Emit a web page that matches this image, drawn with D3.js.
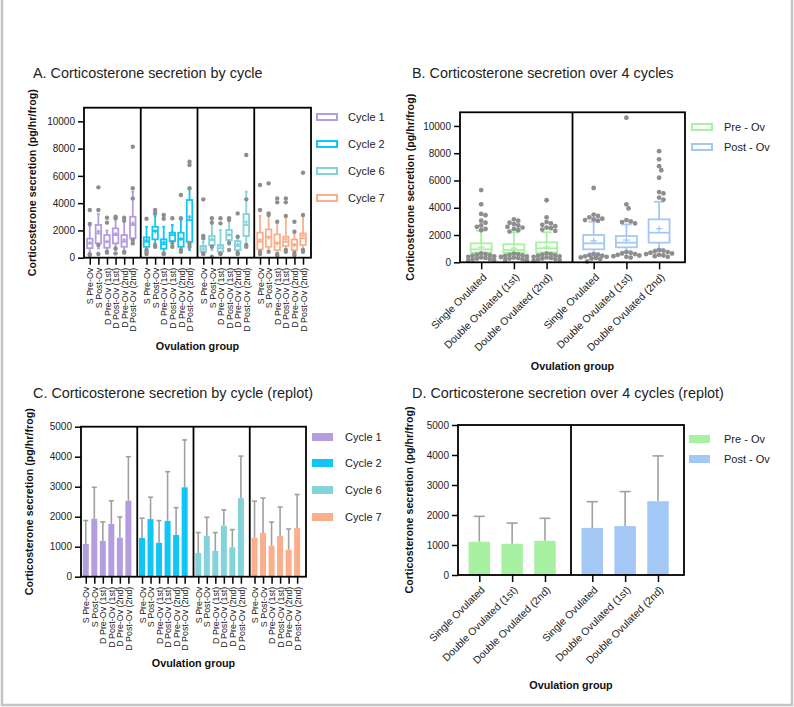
<!DOCTYPE html>
<html>
<head>
<meta charset="utf-8">
<script src="https://cdn.jsdelivr.net/npm/d3@7"></script>
<style>
  body { margin: 0; background: #fff; }
  text { font-family: "Liberation Sans", Arial, sans-serif; }
</style>
</head>
<body>
<svg id="chart" width="794" height="707"></svg>
<script>
// ---- data ----
const cycles = ["Cycle 1", "Cycle 2", "Cycle 6", "Cycle 7"];
const cycleGroups = ["S Pre-Ov", "S Post-Ov", "D Pre-Ov (1st)", "D Post-Ov (1st)", "D Pre-Ov (2nd)", "D Post-Ov (2nd)"];
const ovGroups = ["Single Ovulated", "Double Ovulated (1st)", "Double Ovulated (2nd)"];
const phases = ["Pre - Ov", "Post - Ov"];
const ticksBox = [0, 2000, 4000, 6000, 8000, 10000];
const ticksBar = [0, 1000, 2000, 3000, 4000, 5000];

// box: [whisker low, q1, median, q3, whisker high]
const boxCycle1 = [[350, 700, 1050, 1400, 2300], [680, 1050, 1780, 2400, 3200], [440, 730, 1170, 1660, 2000],
                   [560, 1050, 1660, 2150, 2960], [440, 800, 1170, 1660, 2760], [1050, 1420, 2400, 3000, 4840]];
const boxCycle2 = [[560, 800, 1170, 1490, 2270], [930, 1350, 1980, 2270, 3060], [370, 660, 980, 1350, 2270],
                   [860, 1220, 1660, 1830, 2400], [560, 800, 1340, 1830, 2760], [560, 1170, 2760, 4230, 5090]];
const boxCycle6 = [[270, 440, 610, 860, 1170], [560, 930, 1300, 1590, 2890], [270, 440, 680, 930, 2030],
                   [930, 1300, 1660, 2030, 2890], [270, 560, 860, 1220, 1540], [930, 1590, 2400, 3200, 4840]];
const boxCycle7 = [[270, 610, 1170, 1830, 3060], [440, 800, 1540, 2080, 3250], [200, 560, 1100, 1710, 2640],
                   [560, 860, 1170, 1540, 3060], [270, 560, 980, 1340, 1900], [560, 930, 1420, 1780, 3060]];

const outCycle1 = [[3500, 2480, 250, 200], [5160, 3500, 930, 270], [2930, 2570, 440, 370],
                   [3000, 2890, 680, 320], [2930, 2710, 440, 370], [8140, 5090, 4350, 1300, 1050]];
const outCycle2 = [[2860, 560, 440, 270], [3500, 3250, 930, 800], [3130, 2860, 320, 270],
                   [2890, 1100, 800], [4600, 2890, 560, 440], [7040, 6800, 5090, 1050, 800]];
const outCycle6 = [[4280, 1590, 1420, 320, 270], [2890, 2570, 800, 70], [2890, 2520, 320, 270],
                   [2890, 2760, 1100, 560], [3250, 1540, 370, 270], [7530, 4280, 930, 800]];
const outCycle7 = [[5330, 3500, 440, 270], [5450, 3250, 3130, 440], [4350, 4060, 2640, 270, 150],
                   [4350, 4060, 3060, 560, 440], [2640, 1900, 370, 200], [6230, 3130, 560, 440]];

// means and SD (panel C bars)
const meanCycle1 = [1090, 1930, 1190, 1760, 1300, 2530];
const meanCycle2 = [1290, 1920, 1130, 1860, 1390, 2980];
const meanCycle6 = [790, 1360, 860, 1700, 980, 2620];
const meanCycle7 = [1300, 1460, 1030, 1360, 900, 1620];
const sdCycle1 = [780, 1050, 640, 770, 690, 1470];
const sdCycle2 = [660, 730, 740, 1640, 910, 1580];
const sdCycle6 = [680, 620, 610, 530, 590, 1400];
const sdCycle7 = [1220, 1160, 790, 960, 690, 1120];

// panel B / D: pooled over 4 cycles
const boxPre = [[680, 720, 950, 1390, 2320], [680, 700, 900, 1320, 2200], [680, 720, 1020, 1460, 2200]];
const boxPost = [[640, 950, 1390, 2000, 2980], [780, 1100, 1440, 1930, 2780], [950, 1440, 2170, 3150, 4440]];
const outPre = [
  [5300, 4250, 3550, 3450, 3050, 2900, 2700, 2600, 2450, 2350, 650, 600, 560, 520, 480, 440, 400, 360, 320, 280, 240, 200, 160, 120],
  [3150, 3050, 2900, 2800, 2700, 2600, 2550, 2450, 2350, 2250, 640, 590, 550, 510, 470, 430, 390, 350, 310, 270, 230, 190, 150],
  [4550, 3300, 2950, 2850, 2750, 2650, 2550, 2500, 2400, 2300, 650, 600, 560, 520, 480, 440, 400, 360, 320, 280, 240, 200, 160, 110]
];
const outPost = [
  [5450, 3500, 3400, 3300, 3200, 3150, 3100, 3050, 600, 560, 520, 480, 440, 400, 360, 320, 280, 240, 60],
  [10600, 4250, 3950, 3100, 3000, 2950, 2850, 750, 700, 650, 600, 550, 500, 450, 400, 350],
  [8150, 7550, 7050, 6750, 6200, 5150, 5050, 4750, 4600, 900, 850, 800, 750, 700, 650, 600, 550, 500, 450, 400]
];
const meanPre = [1110, 1040, 1140];
const meanPost = [1570, 1630, 2460];
const sdPre = [845, 690, 750];
const sdPost = [875, 1150, 1510];

// ---- styles ----
const cycleColors = ["#b39ddf", "#0fc6f4", "#84d2da", "#fbae8c"];
const phaseColors = ["#a8f0a2", "#a3c8f5"];
const dotColor = "#8e8e8e";
const errColor = "#a0a0a0";

const svg = d3.select("#chart");
svg.append("rect").attr("width", 794).attr("height", 707).attr("fill", "#fff");
svg.append("rect").attr("x", 2).attr("y", -10).attr("width", 790).attr("height", 715)
  .attr("fill", "none").attr("stroke", "#c4c4c4").attr("stroke-width", 2.5);

function title(x, y, txt) {
  svg.append("text").attr("x", x).attr("y", y).attr("font-size", 14.4).attr("fill", "#1e1e1e").text(txt);
}
title(33, 78, "A. Corticosterone secretion by cycle");
title(412, 78, "B. Corticosterone secretion over 4 cycles");
title(33, 398, "C. Corticosterone secretion by cycle (replot)");
title(412, 398, "D. Corticosterone secretion over 4 cycles (replot)");

// common frame, y axis, x axis; returns scales
function panel(p) {
  const g = svg.append("g");
  const y = d3.scaleLinear().domain(p.domain).range([p.y1, p.y0]);
  const outer = d3.scaleBand().domain(p.sections).range([p.x0, p.x1]);
  const inner = d3.scalePoint().domain(p.groups).range([0, outer.bandwidth()])
    .padding(p.pad).align(p.align);

  const yAx = g.append("g").attr("transform", `translate(${p.x0},0)`)
    .call(d3.axisLeft(y).tickValues(p.ticks).tickSize(6).tickPadding(3).tickFormat(d3.format("d")));
  yAx.select(".domain").remove();
  yAx.selectAll("line").attr("stroke", "#000").attr("stroke-width", 1.5);
  yAx.selectAll("text").attr("font-size", 10).attr("fill", "#222").style("font-family", "Liberation Sans, Arial");

  p.sections.forEach(s => {
    const xa = g.append("g").attr("transform", `translate(${outer(s)},${p.y1})`)
      .call(d3.axisBottom(inner).tickSize(7).tickPadding(3));
    xa.select(".domain").remove();
    xa.selectAll("line").attr("stroke", "#000").attr("stroke-width", 1.5);
    const t = xa.selectAll("text").attr("font-size", p.xFont).attr("fill", "#222")
      .style("font-family", "Liberation Sans, Arial").attr("text-anchor", "end");
    if (p.rot === -90) {
      t.attr("transform", "rotate(-90)").attr("x", -10).attr("y", 0).attr("dy", "0.35em");
    } else {
      t.attr("transform", "translate(3,13) rotate(-45)").attr("x", 0).attr("y", 0).attr("dy", "0.35em");
    }
  });

  return { g, y, outer, inner };
}

function frame(p, sc) {
  const f = svg.append("g").attr("fill", "none").attr("stroke", "#000").attr("stroke-width", 1.8);
  f.append("rect").attr("x", p.x0).attr("y", p.y0).attr("width", p.x1 - p.x0).attr("height", p.y1 - p.y0);
  p.sections.slice(1).forEach(s => {
    f.append("line").attr("x1", sc.outer(s)).attr("x2", sc.outer(s)).attr("y1", p.y0).attr("y2", p.y1);
  });
}

function labels(p, xTitleY, yTitleX) {
  svg.append("text").attr("transform", `translate(${yTitleX},${(p.y0 + p.y1) / 2}) rotate(-90)`)
    .attr("text-anchor", "middle").attr("font-size", 10.7).attr("font-weight", "bold").attr("fill", "#111")
    .text("Corticosterone secretion (pg/hr/frog)");
  svg.append("text").attr("x", (p.x0 + p.x1) / 2).attr("y", xTitleY).attr("text-anchor", "middle")
    .attr("font-size", 10.8).attr("font-weight", "bold").attr("fill", "#111").text("Ovulation group");
}

// simple beeswarm: nearest free slot, kept within maxOff of the centre
function swarm(values, y, r, maxOff) {
  const placed = [];
  const step = r * 0.9;
  return values.map(v => {
    const py = y(v);
    let best = 0, bestGap = -Infinity;
    for (let k = 0; k < 80; k++) {
      const c = k === 0 ? 0 : (k % 2 ? 1 : -1) * Math.ceil(k / 2) * step;
      if (Math.abs(c) > maxOff) break;
      const gap = placed.length ? d3.min(placed, q => Math.hypot(q.x - c, q.y - py)) : Infinity;
      if (gap >= 2 * r * 0.9) { best = c; bestGap = gap; break; }
      if (gap > bestGap) { bestGap = gap; best = c; }
    }
    placed.push({ x: best, y: py });
    return { py, dx: best };
  });
}

function boxes(sc, section, boxArr, outArr, meanArr, color, bw, r, spread) {
  const g = svg.append("g");
  const y = sc.y;
  sc.inner.domain().forEach((grp, i) => {
    const cx = sc.outer(section) + sc.inner(grp);
    const [lo, q1, md, q3, hi] = boxArr[i];
    const b = g.append("g").attr("stroke", color).attr("stroke-width", 1.8).attr("fill", "none");
    b.append("line").attr("x1", cx).attr("x2", cx).attr("y1", y(lo)).attr("y2", y(q1));
    b.append("line").attr("x1", cx).attr("x2", cx).attr("y1", y(q3)).attr("y2", y(hi));
    b.append("line").attr("x1", cx - bw * 0.25).attr("x2", cx + bw * 0.25).attr("y1", y(hi)).attr("y2", y(hi));
    b.append("line").attr("x1", cx - bw * 0.25).attr("x2", cx + bw * 0.25).attr("y1", y(lo)).attr("y2", y(lo));
    b.append("rect").attr("x", cx - bw / 2).attr("y", y(q3)).attr("width", bw).attr("height", y(q1) - y(q3))
      .attr("fill", "#fff");
    b.append("line").attr("x1", cx - bw / 2).attr("x2", cx + bw / 2).attr("y1", y(md)).attr("y2", y(md));
    const m = y(meanArr[i]), ps = Math.max(2, bw * 0.16);
    b.append("line").attr("x1", cx - ps).attr("x2", cx + ps).attr("y1", m).attr("y2", m).attr("stroke-width", 1.3);
    b.append("line").attr("x1", cx).attr("x2", cx).attr("y1", m - ps).attr("y2", m + ps).attr("stroke-width", 1.3);
    const pts = spread ? swarm(outArr[i], y, r, bw * 0.72) : outArr[i].map(v => ({ py: y(v), dx: 0 }));
    g.selectAll(null).data(pts).enter().append("circle")
      .attr("cx", d => cx + d.dx).attr("cy", d => d.py).attr("r", r).attr("fill", dotColor);
  });
}

function bars(sc, section, meanArr, sdArr, color, bw, capW) {
  const g = svg.append("g");
  const y = sc.y;
  sc.inner.domain().forEach((grp, i) => {
    const cx = sc.outer(section) + sc.inner(grp);
    const top = meanArr[i] + sdArr[i];
    g.append("line").attr("x1", cx).attr("x2", cx).attr("y1", y(meanArr[i])).attr("y2", y(top))
      .attr("stroke", errColor).attr("stroke-width", 1.6);
    g.append("line").attr("x1", cx - capW / 2).attr("x2", cx + capW / 2).attr("y1", y(top)).attr("y2", y(top))
      .attr("stroke", errColor).attr("stroke-width", 1.6);
    g.append("rect").attr("x", cx - bw / 2).attr("y", y(meanArr[i])).attr("width", bw)
      .attr("height", y(0) - y(meanArr[i])).attr("fill", color);
  });
}

function legend(x, ys, names, colors, hollow, tx) {
  const g = svg.append("g");
  names.forEach((n, i) => {
    if (hollow) {
      g.append("rect").attr("x", x).attr("y", ys[i] - 3).attr("width", 20).attr("height", 6)
        .attr("fill", "#fff").attr("stroke", colors[i]).attr("stroke-width", 2);
    } else {
      g.append("rect").attr("x", x).attr("y", ys[i] - 4).attr("width", 21).attr("height", 8).attr("fill", colors[i]);
    }
    g.append("text").attr("x", tx).attr("y", ys[i]).attr("dy", "0.35em").attr("font-size", 11)
      .attr("fill", "#222").text(n);
  });
}

// ---- Panel A ----
const pA = { x0: 84, x1: 311, y0: 107.7, y1: 257.7, domain: [0, 11000], ticks: ticksBox,
  sections: cycles, groups: cycleGroups, pad: 0.8, align: 0.42, rot: -90, xFont: 8.9 };
const sA = panel(pA);
const boxA = [boxCycle1, boxCycle2, boxCycle6, boxCycle7];
const outA = [outCycle1, outCycle2, outCycle6, outCycle7];
const meanA = [meanCycle1, meanCycle2, meanCycle6, meanCycle7];
cycles.forEach((c, i) => boxes(sA, c, boxA[i], outA[i], meanA[i], cycleColors[i], 5.5, 2.2, false));
frame(pA, sA);
labels(pA, 350, 36);
legend(317, [117, 144, 171, 198], cycles, cycleColors, true, 348);

// ---- Panel B ----
const pB = { x0: 460, x1: 685, y0: 112.3, y1: 262.3, domain: [0, 11000], ticks: ticksBox,
  sections: ["pre", "post"], groups: ovGroups, pad: 0.72, align: 0.45, rot: -45, xFont: 10.4 };
const sB = panel(pB);
boxes(sB, "pre", boxPre, outPre, meanPre, phaseColors[0], 21, 2.4, true);
boxes(sB, "post", boxPost, outPost, meanPost, phaseColors[1], 21, 2.4, true);
frame(pB, sB);
labels(pB, 370, 414);
legend(692, [127, 147], phases, phaseColors, true, 724);

// ---- Panel C ----
const pC = { x0: 81, x1: 306, y0: 426.7, y1: 576.7, domain: [0, 5000], ticks: ticksBar,
  sections: cycles, groups: cycleGroups, pad: 0.8, align: 0.35, rot: -90, xFont: 8.9 };
const sC = panel(pC);
const sdC = [sdCycle1, sdCycle2, sdCycle6, sdCycle7];
cycles.forEach((c, i) => bars(sC, c, meanA[i], sdC[i], cycleColors[i], 6, 5));
frame(pC, sC);
labels(pC, 667, 33);
legend(312, [437, 463, 490, 517], cycles, cycleColors, false, 345);

// ---- Panel D ----
const pD = { x0: 458, x1: 684, y0: 425, y1: 575, domain: [0, 5000], ticks: ticksBar,
  sections: ["pre", "post"], groups: ovGroups, pad: 0.72, align: 0.45, rot: -45, xFont: 10.4 };
const sD = panel(pD);
bars(sD, "pre", meanPre, sdPre, phaseColors[0], 21.5, 11);
bars(sD, "post", meanPost, sdPost, phaseColors[1], 21.5, 11);
frame(pD, sD);
labels(pD, 689, 413);
legend(689, [439, 459], phases, phaseColors, false, 724);
</script>
</body>
</html>
